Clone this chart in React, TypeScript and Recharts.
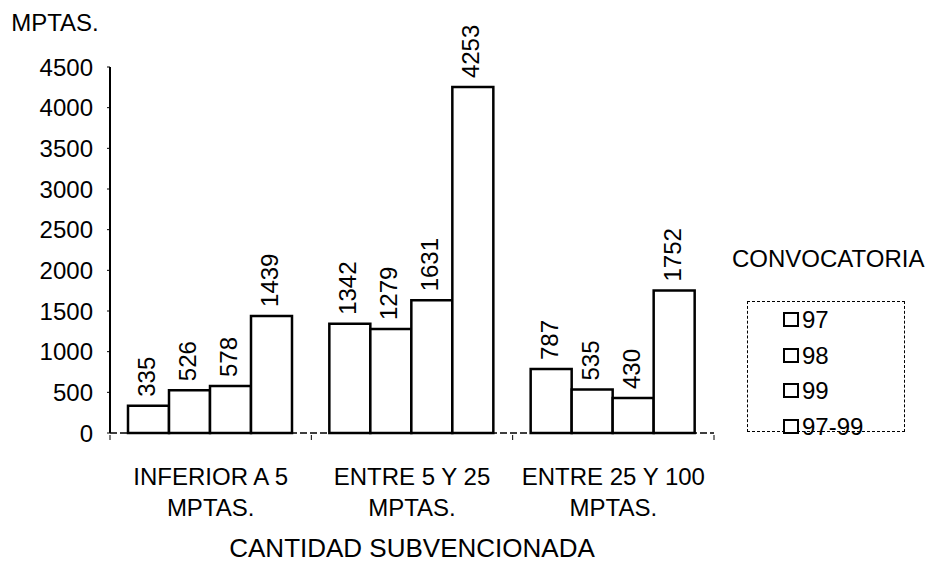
import { BarChart, Bar, XAxis, YAxis, LabelList, Legend, Label } from 'recharts';

const categories = ['INFERIOR A 5\nMPTAS.', 'ENTRE 5 Y 25\nMPTAS.', 'ENTRE 25 Y 100\nMPTAS.'];
const conv97 = [335, 1342, 787];
const conv98 = [526, 1279, 535];
const conv99 = [578, 1631, 430];
const conv9799 = [1439, 4253, 1752];
const seriesNames = ['97', '98', '99', '97-99'];
const yTicks = [0, 500, 1000, 1500, 2000, 2500, 3000, 3500, 4000, 4500];

const data = categories.map((cat, i) => ({
  cat,
  s97: conv97[i],
  s98: conv98[i],
  s99: conv99[i],
  s9799: conv9799[i],
}));

const FONT = '"Liberation Sans", Arial, sans-serif';
const FS = 24;

// rotated value above each bar
const ValueLabel = (props: any) => {
  const { x, y, width, value } = props;
  const cx = x + width / 2 - 2;
  const ty = y - 9;
  return (
    <text
      x={cx}
      y={ty}
      transform={`rotate(-90 ${cx} ${ty})`}
      textAnchor="start"
      dominantBaseline="central"
      fontSize={FS}
      fontFamily={FONT}
      fill="#000"
    >
      {value}
    </text>
  );
};

const CategoryTick = (props: any) => {
  const { x, y, payload, index, visibleTicksCount } = props;
  const lines = String(payload.value).split('\n');
  const half = payload.offset > 2 ? payload.offset : 0;
  const isLast = index === (visibleTicksCount ?? 3) - 1;
  return (
    <g>
      {half > 0 && <line x1={x - half} x2={x - half} y1={y} y2={y + 5} stroke="#000" strokeWidth={1} />}
      {half > 0 && isLast && <line x1={x + half} x2={x + half} y1={y} y2={y + 5} stroke="#000" strokeWidth={1} />}
      <text x={x} y={y} textAnchor="middle" fontSize={FS} fontFamily={FONT} fill="#000">
        {lines.map((l, i) => (
          <tspan key={i} x={x} dy={i === 0 ? 50 : 31}>
            {l}
          </tspan>
        ))}
      </text>
    </g>
  );
};

const LegendBox = (props: any) => {
  const { payload = [] } = props;
  const items = [...payload].sort(
    (a: any, b: any) => seriesNames.indexOf(a.value) - seriesNames.indexOf(b.value)
  );
  return (
    <div style={{ fontFamily: FONT, fontSize: FS, color: '#000' }}>
      <div style={{ lineHeight: '24px', whiteSpace: 'nowrap' }}>CONVOCATORIA</div>
      <div
        style={{
          marginTop: 30,
          marginLeft: 15,
          width: 158,
          height: 131,
          boxSizing: 'border-box',
          border: '1px dashed #000',
        }}
      >
        {items.map((entry: any) => (
          <div key={entry.value} style={{ height: 35.5, lineHeight: '35.5px', display: 'flex', alignItems: 'center' }}>
            <span
              style={{
                display: 'inline-block',
                flexShrink: 0,
                width: 16,
                height: 15,
                boxSizing: 'border-box',
                border: '2px solid #000',
                background: '#fff',
                marginLeft: 35,
                marginRight: 3,
              }}
            />
            <span>{entry.value}</span>
          </div>
        ))}
      </div>
    </div>
  );
};

export default function App() {
  const keys = ['s97', 's98', 's99', 's9799'];
  return (
    <div style={{ position: 'absolute', left: 0, top: 0, width: 933, height: 568, background: '#fff' }}>
      <BarChart
        width={933}
        height={568}
        data={data}
        margin={{ top: 67, right: 219, left: 0, bottom: 0 }}
        barGap={0}
        barCategoryGap={18}
      >
        <XAxis
          dataKey="cat"
          height={135}
          tickSize={0}
          tickLine={false}
          axisLine={{ stroke: '#000', strokeWidth: 1.5, strokeDasharray: '7 3' }}
          tick={<CategoryTick />}
          interval={0}
        >
          <Label
            value="CANTIDAD SUBVENCIONADA"
            position="insideBottom"
            offset={11}
            fontSize={26}
            fontFamily={FONT}
            fill="#000"
          />
        </XAxis>
        <YAxis
          width={110}
          domain={[0, 4500]}
          ticks={yTicks}
          interval={0}
          tickSize={3}
          tickMargin={14}
          tickLine={{ stroke: '#000', strokeWidth: 1 }}
          axisLine={{ stroke: '#000', strokeWidth: 2 }}
          tick={{ fontSize: FS, fontFamily: FONT, fill: '#000' }}
        >
          <Label value="MPTAS." position="top" offset={36} fontSize={FS} fontFamily={FONT} fill="#000" />
        </YAxis>
        <Legend
          layout="vertical"
          align="center"
          verticalAlign="middle"
          content={<LegendBox />}
          wrapperStyle={{ left: 732, top: 247, width: 200, height: 310 }}
        />
        {keys.map((k, i) => (
          <Bar
            key={k}
            dataKey={k}
            name={seriesNames[i]}
            fill="#fff"
            stroke="#000"
            strokeWidth={2.5}
            isAnimationActive={false}
          >
            <LabelList dataKey={k} content={<ValueLabel />} />
          </Bar>
        ))}
      </BarChart>
    </div>
  );
}
